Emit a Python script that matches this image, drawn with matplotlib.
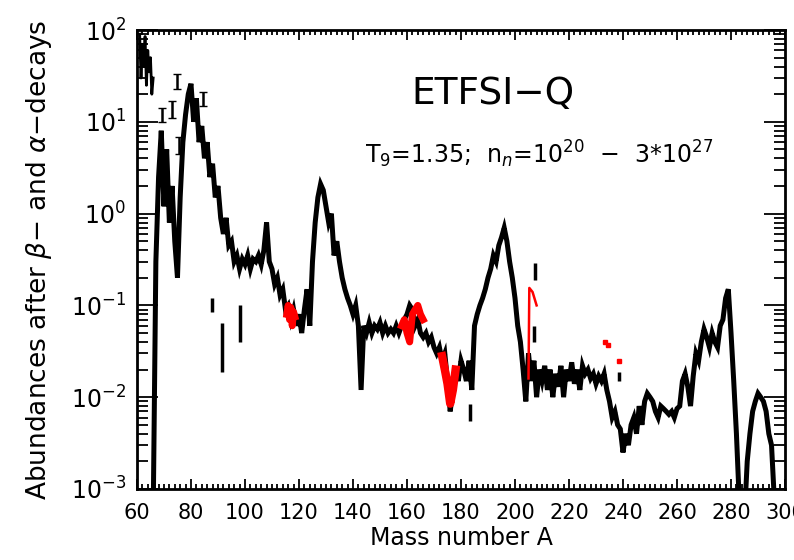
import numpy as np
import matplotlib
matplotlib.use('Agg')
import matplotlib.pyplot as plt
from matplotlib.ticker import MultipleLocator, LogLocator, NullFormatter

# ---- data ----
# main abundance curve (mass number, abundance)
mass = list(range(66, 298))
abund = [
    0.0005, 0.3, 2.5, 8, 1.2, 5, 0.8, 2, 0.5, 0.2,             # 66-75
    1.5, 6, 12, 20, 26, 10, 18, 6, 9, 4,                        # 76-85
    6, 2.5, 3.5, 1.5, 2, 0.9, 0.6, 0.9, 0.45, 0.5,              # 86-95
    0.3, 0.35, 0.25, 0.32, 0.28, 0.35, 0.25, 0.32, 0.3, 0.35,   # 96-105
    0.28, 0.4, 0.8, 0.3, 0.25, 0.17, 0.2, 0.13, 0.15, 0.09,     # 106-115
    0.1, 0.07, 0.09, 0.06, 0.08, 0.05, 0.09, 0.15, 0.06, 0.3,   # 116-125
    0.8, 1.5, 2.1, 1.8, 1.2, 0.8, 1.0, 0.35, 0.5, 0.3,          # 126-135
    0.2, 0.15, 0.12, 0.1, 0.08, 0.1, 0.06, 0.012, 0.06, 0.05,   # 136-145
    0.065, 0.05, 0.06, 0.055, 0.065, 0.05, 0.06, 0.05, 0.055, 0.05,  # 146-155
    0.06, 0.05, 0.06, 0.07, 0.08, 0.1, 0.09, 0.06, 0.07, 0.05,  # 156-165
    0.045, 0.05, 0.04, 0.045, 0.035, 0.03, 0.035, 0.025, 0.03, 0.015,  # 166-175
    0.007, 0.012, 0.02, 0.015, 0.025, 0.02, 0.015, 0.025, 0.012, 0.06,  # 176-185
    0.08, 0.1, 0.12, 0.15, 0.2, 0.25, 0.35, 0.3, 0.45, 0.55,    # 186-195
    0.7, 0.5, 0.3, 0.2, 0.12, 0.06, 0.04, 0.02, 0.009, 0.03,    # 196-205
    0.015, 0.025, 0.01, 0.02, 0.015, 0.022, 0.012, 0.02, 0.01, 0.018,  # 206-215
    0.013, 0.022, 0.01, 0.02, 0.015, 0.024, 0.014, 0.02, 0.012, 0.022,  # 216-225
    0.018, 0.02, 0.016, 0.018, 0.014, 0.017, 0.015, 0.018, 0.012, 0.009,  # 226-235
    0.006, 0.007, 0.005, 0.0045, 0.0025, 0.004, 0.003, 0.005, 0.006, 0.004,  # 236-245
    0.008, 0.005, 0.009, 0.011, 0.01, 0.009, 0.007, 0.006, 0.008, 0.0075,  # 246-255
    0.007, 0.0065, 0.007, 0.006, 0.0075, 0.008, 0.015, 0.018, 0.013, 0.008,  # 256-265
    0.017, 0.03, 0.025, 0.04, 0.055, 0.045, 0.035, 0.05, 0.04, 0.035,  # 266-275
    0.06, 0.07, 0.12, 0.15, 0.05, 0.015, 0.004, 0.0008, 0.0005, 0.0005,  # 276-285
    0.002, 0.004, 0.007, 0.009, 0.011, 0.01, 0.009, 0.007, 0.004, 0.003,  # 286-295
    0.0008, 0.0005,                                             # 296-297
]

# light-nuclei clutter near the top-left corner
edge_mass = [61, 61.5, 62, 62.5, 63, 63.5, 64, 64.5, 65, 65.5, 66]
edge_abund = [90, 30, 70, 40, 85, 25, 60, 35, 50, 20, 30]

# red pieces
red1_mass = [115.5, 116, 116.5, 117, 117.5, 118, 118.5]
red1_abund = [0.08, 0.1, 0.07, 0.095, 0.06, 0.085, 0.075]
red2_mass = [158, 159, 160, 161, 162, 163, 164, 165, 166]
red2_abund = [0.06, 0.07, 0.05, 0.04, 0.08, 0.09, 0.1, 0.08, 0.07]
red3_mass = [173, 174, 175, 176, 177, 178]
red3_abund = [0.028, 0.02, 0.014, 0.0085, 0.012, 0.02]
red4_mass = [205, 205.3, 206.5, 208]
red4_abund = [0.016, 0.155, 0.14, 0.1]
red_dot_mass = [233.5, 234.5, 238.5]
red_dot_abund = [0.04, 0.037, 0.025]

# isolated error-bar marks (mass, centre, low, high)
err_mass = [69.3, 73.0, 74.8, 84.4, 75.5]
err_val = [12, 14, 28, 18, 5.6]
err_lo = [10, 11, 23, 15, 4.5]
err_hi = [14, 17, 33, 21, 6.8]

seg_mass = [87.8, 91.5, 98.0, 183.5, 207.5, 207.0, 238.5]
seg_lo = [0.085, 0.019, 0.04, 0.0055, 0.19, 0.04, 0.015]
seg_hi = [0.12, 0.065, 0.1, 0.0085, 0.29, 0.06, 0.019]

# ---- plot ----
fig = plt.figure(figsize=(7.94, 5.6), dpi=100)
ax = fig.add_axes([0.1725, 0.1268, 0.8162, 0.8196])

ax.plot(mass, abund, color='black', lw=3.6, solid_joinstyle='miter')
ax.plot(edge_mass, edge_abund, color='black', lw=2)
ax.vlines(seg_mass, seg_lo, seg_hi, color='black', lw=2.5)
ax.errorbar(err_mass, err_val,
            yerr=[np.array(err_val) - np.array(err_lo),
                  np.array(err_hi) - np.array(err_val)],
            fmt='none', ecolor='black', elinewidth=1.8, capsize=3)

ax.plot(red1_mass, red1_abund, color='red', lw=5)
ax.plot(red2_mass, red2_abund, color='red', lw=5)
ax.plot(red3_mass, red3_abund, color='red', lw=6)
ax.plot(red4_mass, red4_abund, color='red', lw=1.8)
ax.plot(red_dot_mass, red_dot_abund, 's', color='red', ms=3.5)

ax.set_yscale('log')
ax.set_xlim(60, 300)
ax.set_ylim(1e-3, 1e2)

ax.xaxis.set_major_locator(MultipleLocator(20))
ax.xaxis.set_minor_locator(MultipleLocator(2))
ax.yaxis.set_minor_locator(LogLocator(base=10, subs=np.arange(2, 10), numticks=10))
ax.yaxis.set_minor_formatter(NullFormatter())
ax.set_yticks([1e-3, 1e-2, 1e-1, 1e0, 1e1, 1e2])
ax.set_yticklabels([r'$10^{-3}$', r'$10^{-2}$', r'$10^{-1}$', r'$10^{0}$',
                    r'$10^{1}$', r'$10^{2}$'])

ax.tick_params(which='both', direction='in', top=True, right=True, width=1.3)
ax.tick_params(axis='x', which='major', length=7, pad=10, labelsize=15)
ax.tick_params(axis='x', which='minor', length=3.5)
ax.tick_params(axis='y', which='major', length=15, pad=8, labelsize=17)
ax.tick_params(axis='y', which='minor', length=8)
for s in ax.spines.values():
    s.set_linewidth(2)

ax.set_xlabel('Mass number A', fontsize=17, labelpad=2)
ax.set_ylabel(r'Abundances after $\beta$$-$ and $\alpha$$-$decays',
              fontsize=19, labelpad=12)

ax.text(0.55, 0.86, 'ETFSI\u2212Q', transform=ax.transAxes,
        ha='center', va='center', fontsize=27)
ax.text(0.62, 0.73, r'T$_9$=1.35;  n$_n$=10$^{20}$  $-$  3*10$^{27}$',
        transform=ax.transAxes, ha='center', va='center', fontsize=17)

plt.savefig('out.png', dpi=100)
